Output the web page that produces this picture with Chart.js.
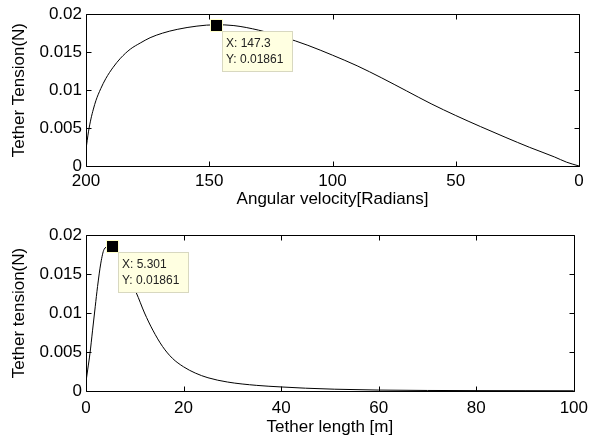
<!DOCTYPE html>
<html>
<head>
<meta charset="utf-8">
<script src="https://cdn.jsdelivr.net/npm/chart.js@4/dist/chart.umd.min.js"></script>
<style>
  html, body { margin: 0; padding: 0; background: #fff; }
  #wrap { position: relative; width: 595px; height: 441px; overflow: hidden; }
  canvas { position: absolute; left: 0; }
  #c1 { top: 0; }
  #c2 { top: 220px; }
</style>
</head>
<body>
<div id="wrap">
  <canvas id="c1" width="595" height="220"></canvas>
  <canvas id="c2" width="595" height="221"></canvas>
</div>
<script>
// ---- Data ----
const omega = [200, 199, 198, 197, 196, 194, 192, 189, 186, 182, 178, 174, 169, 163, 155, 147.3, 140, 130, 120, 110, 100, 90, 80, 70, 60, 50, 40, 30, 20, 10, 5, 0];
const tensionOmega = [0.0022, 0.0045, 0.0062, 0.0075, 0.0086, 0.0102, 0.0115, 0.0130, 0.0142, 0.0154, 0.0162, 0.0169, 0.0175, 0.0180, 0.01843, 0.01861, 0.0185, 0.0179, 0.0170, 0.0159, 0.0146, 0.0132, 0.0116, 0.0099, 0.0082, 0.00665, 0.0052, 0.0038, 0.00245, 0.0012, 0.0005, 0.0];

const tetherLength = [0, 0.34, 0.81, 1.35, 1.89, 2.37, 3.04, 3.7, 4.5, 5.301, 6, 7, 8, 9, 10.3, 12, 13.7, 15.7, 17.7, 20, 22.4, 25, 29, 35, 40, 45, 51, 60, 70, 80, 90, 100];
const tensionLength = [0.0012, 0.0027, 0.0048, 0.0078, 0.0108, 0.0134, 0.0164, 0.01815, 0.0185, 0.01861, 0.0184, 0.0175, 0.0160, 0.0142, 0.0126, 0.0100, 0.0078, 0.0057, 0.0042, 0.0031, 0.0023, 0.0017, 0.00115, 0.00072, 0.00052, 0.00036, 0.00023, 0.00012, 0.00007, 0.00005, 0.00004, 0.00003];

const yTickValues = [0, 0.005, 0.01, 0.015, 0.02];
const yTickLabels = ['0', '0.005', '0.01', '0.015', '0.02'];
const xTicksTop = [0, 50, 100, 150, 200];
const xTicksBottom = [0, 20, 40, 60, 80, 100];

const FONT = "'Liberation Sans', Arial, Helvetica, sans-serif";
const FS = 17;

function peakIndex(arr) {
  let k = 0;
  for (let i = 1; i < arr.length; i++) if (arr[i] > arr[k]) k = i;
  return k;
}

// Inward ticks + box, MATLAB style; data tip at the peak
const boxPlugin = {
  id: 'matlabBox',
  afterDatasetsDraw(chart) {
    const ctx = chart.ctx, a = chart.chartArea;
    const xs = chart.scales.x, ys = chart.scales.y;
    const L = Math.round(a.left) + 0.5, R = Math.round(a.right) + 0.5;
    const T = Math.round(a.top) + 0.5, B = Math.round(a.bottom) + 0.5;
    ctx.save();
    ctx.strokeStyle = '#000';
    ctx.lineWidth = 1;
    ctx.beginPath();
    ctx.rect(L, T, R - L, B - T);
    const tl = 5;
    xs.ticks.forEach(t => {
      const px = Math.round(xs.getPixelForValue(t.value)) + 0.5;
      ctx.moveTo(px, B); ctx.lineTo(px, B - tl);
      ctx.moveTo(px, T); ctx.lineTo(px, T + tl);
    });
    ys.ticks.forEach(t => {
      const py = Math.round(ys.getPixelForValue(t.value)) + 0.5;
      ctx.moveTo(L, py); ctx.lineTo(L + tl, py);
      ctx.moveTo(R, py); ctx.lineTo(R - tl, py);
    });
    ctx.stroke();
    ctx.restore();
  },
  afterDraw(chart) {
    const o = chart.options.plugins.dataTip;
    if (!o) return;
    const xs = chart.scales.x, ys = chart.scales.y;
    const px = xs.getPixelForValue(o.x), py = ys.getPixelForValue(o.y);
    const ctx = chart.ctx;
    ctx.save();
    ctx.fillStyle = '#FFFFC8';
    ctx.fillRect(Math.round(px) - 6, Math.round(py) - 6, 13, 13);
    ctx.fillStyle = '#000';
    ctx.fillRect(Math.round(px) - 5, Math.round(py) - 5, 11, 11);
    const bx = Math.round(px) + 6, by = Math.round(py) + 6, bw = 71, bh = 41;
    ctx.fillStyle = '#FFFFE1';
    ctx.fillRect(bx, by, bw, bh);
    ctx.strokeStyle = '#D8D8C0';
    ctx.lineWidth = 1;
    ctx.strokeRect(bx + 0.5, by + 0.5, bw - 1, bh - 1);
    ctx.fillStyle = '#222';
    ctx.font = "12px " + FONT;
    ctx.textBaseline = 'middle';
    ctx.textAlign = 'left';
    ctx.fillText(o.lx, bx + 4, by + 13);
    ctx.fillText(o.ly, bx + 4, by + 29);
    ctx.restore();
  }
};

function makeChart(id, xs, ys, cfg) {
  const k = peakIndex(ys);
  const pts = xs.map((x, i) => ({ x: x, y: ys[i] }));
  return new Chart(document.getElementById(id), {
    type: 'scatter',
    data: { datasets: [{
      data: pts, showLine: true, borderColor: '#000', borderWidth: 1,
      pointRadius: 0, cubicInterpolationMode: 'monotone', fill: false
    }]},
    plugins: [boxPlugin],
    options: {
      responsive: false, animation: false, devicePixelRatio: 1,
      layout: { padding: { left: 0, right: 16, top: cfg.top, bottom: 0 } },
      plugins: {
        legend: { display: false }, tooltip: { enabled: false },
        dataTip: { x: xs[k], y: ys[k], lx: 'X: ' + xs[k], ly: 'Y: ' + ys[k] }
      },
      scales: {
        x: {
          type: 'linear', min: cfg.xmin, max: cfg.xmax, reverse: cfg.reverse,
          afterBuildTicks: s => { s.ticks = cfg.xticks.map(v => ({ value: v })); },
          afterFit: s => { s.height = cfg.xh; },
          grid: { display: false, drawTicks: false }, border: { display: false },
          ticks: { color: '#000', padding: cfg.xpad, maxRotation: 0, font: { size: FS, family: FONT }, callback: v => String(v) },
          title: { display: true, text: cfg.xtitle, color: '#000', font: { size: FS, family: FONT }, padding: { top: 0, bottom: cfg.xtpad } }
        },
        y: {
          type: 'linear', min: 0, max: 0.02,
          afterBuildTicks: s => { s.ticks = yTickValues.map(v => ({ value: v })); },
          afterFit: s => { s.width = 86; },
          grid: { display: false, drawTicks: false }, border: { display: false },
          ticks: { color: '#000', padding: 4, font: { size: FS, family: FONT },
                   callback: v => { const i = yTickValues.indexOf(v); return i >= 0 ? yTickLabels[i] : ''; } },
          title: { display: true, text: cfg.ytitle, color: '#000', font: { size: FS, family: FONT }, padding: { top: 9, bottom: 0 } }
        }
      }
    }
  });
}

makeChart('c1', omega, tensionOmega, {
  top: 10, xmin: 0, xmax: 200, reverse: true, xticks: xTicksTop, xh: 54, xpad: 5, xtpad: 10,
  xtitle: 'Angular velocity[Radians]', ytitle: 'Tether Tension(N)'
});
makeChart('c2', tetherLength, tensionLength, {
  top: 15, xmin: 0, xmax: 100, reverse: false, xticks: xTicksBottom, xh: 50, xpad: 7, xtpad: 3,
  xtitle: 'Tether length [m]', ytitle: 'Tether tension(N)'
});
</script>
</body>
</html>
